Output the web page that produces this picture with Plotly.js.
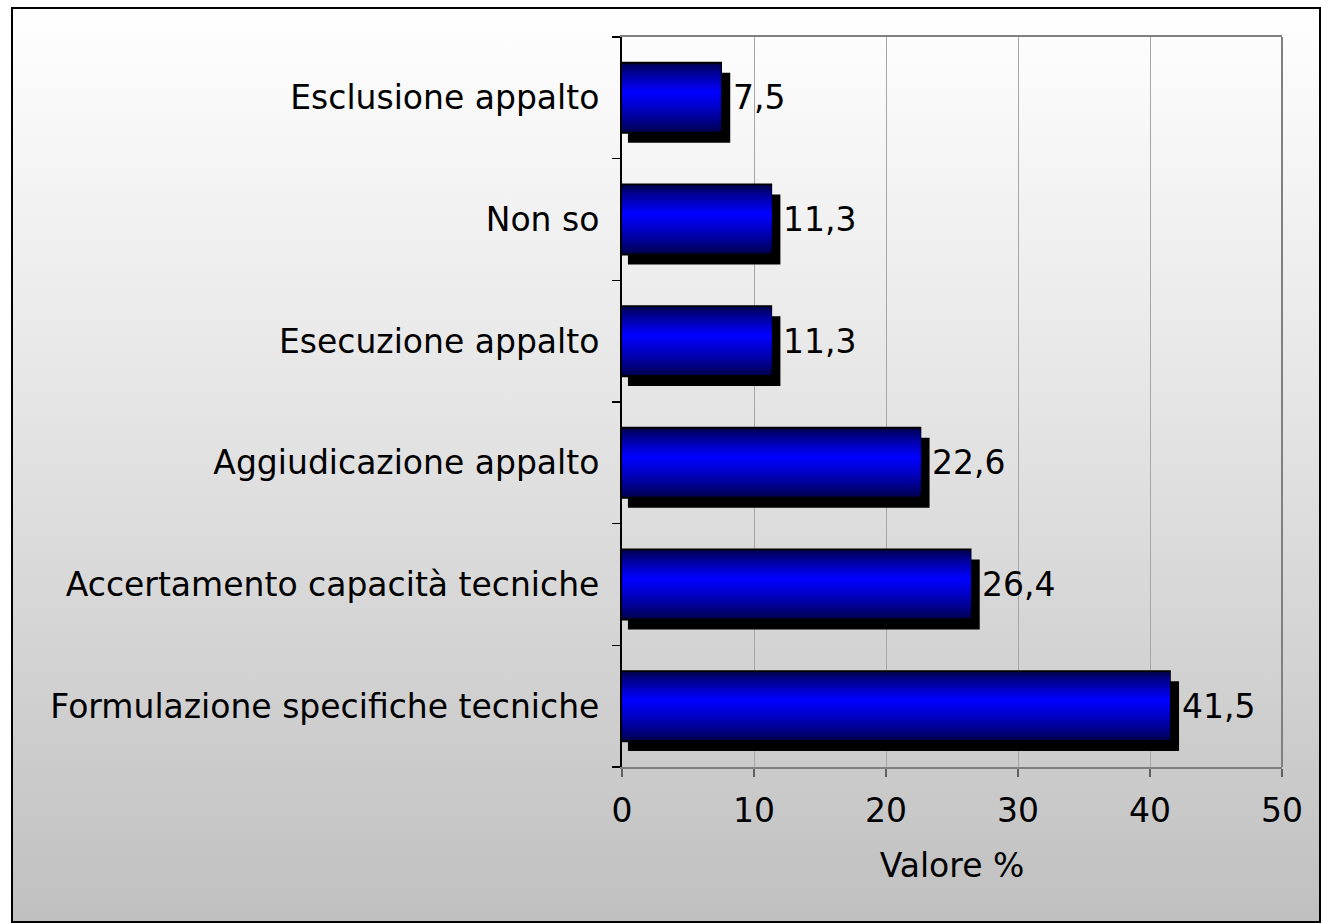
<!DOCTYPE html>
<html>
<head>
<meta charset="utf-8">
<script src="https://cdn.plot.ly/plotly-3.0.1.min.js"></script>
<style>
  html, body { margin: 0; padding: 0; width: 1321px; height: 923px; overflow: hidden; background: #ffffff; }
  #bg { position: absolute; left: 11px; top: 7px; width: 1310px; height: 916px; box-sizing: border-box;
        border: 2px solid #000; background: linear-gradient(to bottom, #ffffff 0%, #e4e4e4 45%, #c0c0c0 100%); }
  #chart { position: absolute; left: 0; top: 0; width: 1321px; height: 923px; }
</style>
</head>
<body>
<div id="bg"></div>
<div id="chart"></div>
<script>
// Data (bottom-to-top order as drawn)
const categories = [
  'Formulazione specifiche tecniche',
  'Accertamento capacità tecniche',
  'Aggiudicazione appalto',
  'Esecuzione appalto',
  'Non so',
  'Esclusione appalto'
];
const values = [41.5, 26.4, 22.6, 11.3, 11.3, 7.5];
const xTickVals = [0, 10, 20, 30, 40, 50];
const axisTitle = 'Valore %';

const FONT = 'DejaVu Sans, Verdana, sans-serif';
const FS = 33;
const W = 0.575;          // bar thickness (category units)
const SHADOW_DY = 0.082;  // shadow downward shift (category units)
const N = 28;             // gradient layers
const F = 0.42;           // brightest point, fraction from top

const traces = [];
// shadow
traces.push({
  type: 'bar', orientation: 'h',
  y: categories, x: values.map(v => v + 0.25), base: 0.45,
  width: W, offset: -W / 2 - SHADOW_DY,
  marker: { color: '#000000', line: { width: 0 } },
  hoverinfo: 'skip', showlegend: false
});
// gradient layers (outer dark -> inner bright)
for (let k = 0; k < N; k++) {
  const t = k / (N - 1);
  const b = Math.round(70 + 185 * Math.pow(t, 0.8));
  traces.push({
    type: 'bar', orientation: 'h',
    y: categories, x: values,
    width: W * (1 - k / N),
    offset: -W / 2 + W * (1 - F) * k / N,
    marker: {
      color: 'rgb(0,0,' + b + ')',
      line: { width: k === 0 ? 2 : 0, color: '#000000' }
    },
    hoverinfo: 'skip', showlegend: false
  });
}

const annotations = values.map((v, i) => ({
  x: v, y: categories[i], xref: 'x', yref: 'y',
  text: v.toFixed(1).replace('.', ','),
  showarrow: false, xanchor: 'left', yanchor: 'middle', xshift: 10,
  font: { family: FONT, size: FS, color: '#000' }
}));

const layout = {
  width: 1321, height: 923,
  margin: { l: 622, r: 39, t: 37, b: 156, pad: 0 },
  paper_bgcolor: 'rgba(0,0,0,0)',
  plot_bgcolor: 'rgba(0,0,0,0)',
  barmode: 'overlay',
  separators: ',.',
  showlegend: false,
  font: { family: FONT, size: FS, color: '#000' },
  xaxis: {
    range: [0, 50], tickvals: xTickVals, ticktext: xTickVals.map(String),
    showgrid: true, gridcolor: '#a6a6a6', gridwidth: 1,
    zeroline: false,
    showline: true, linecolor: '#808080', linewidth: 2, mirror: true,
    ticks: 'outside', ticklen: 8, tickwidth: 1.5, tickcolor: '#606060',
    ticklabelstandoff: 5,
    tickfont: { family: FONT, size: FS, color: '#000' },
    title: { text: axisTitle, font: { family: FONT, size: FS, color: '#000' }, standoff: 25 },
    fixedrange: true, automargin: false
  },
  yaxis: {
    type: 'category', range: [-0.5, 5.5],
    showgrid: false, zeroline: false,
    showline: true, linecolor: '#000000', linewidth: 2,
    ticks: 'outside', tickson: 'boundaries', ticklen: 8, tickwidth: 1.5, tickcolor: '#000',
    ticklabelstandoff: 14,
    tickfont: { family: FONT, size: FS, color: '#000' },
    fixedrange: true, automargin: false
  },
  shapes: [
    { type: 'line', xref: 'paper', yref: 'paper', x0: 1, x1: 1, y0: 0, y1: 1,
      line: { color: '#808080', width: 2 } }
  ],
  annotations: annotations
};

Plotly.newPlot('chart', traces, layout, { staticPlot: true, displayModeBar: false });
</script>
</body>
</html>
